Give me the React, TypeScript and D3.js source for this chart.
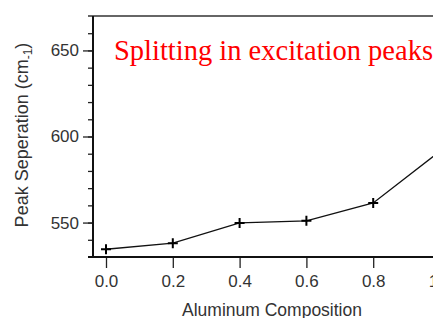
import * as d3 from "d3";
import { useEffect, useRef } from "react";

// values
const composition = [0.0, 0.2, 0.4, 0.6, 0.8, 1.0];
const peakSeparation = [534.5, 538, 549.8, 551, 561.4, 591.5];
const xTicks = [0.0, 0.2, 0.4, 0.6, 0.8, 1.0];
const yTicks = [550, 600, 650];

function App() {
  const ref = useRef<SVGSVGElement>(null);

  useEffect(() => {
    const width = 433;
    const svg = d3.select(ref.current);
    svg.selectAll("*").remove();

    const x = d3.scaleLinear().domain([0, 1]).range([106, 440]);
    const y = d3.scaleLinear().domain([530, 670]).range([257, 16]);
    const left = 93;
    const font = "Liberation Sans, Arial, sans-serif";

    // top frame line (gray)
    svg
      .append("line")
      .attr("x1", 88)
      .attr("x2", width)
      .attr("y1", y(670))
      .attr("y2", y(670))
      .attr("stroke", "#666")
      .attr("stroke-width", 2);

    // left axis with major + minor ticks
    const yAxis = svg.append("g").attr("transform", `translate(${left},0)`);
    yAxis
      .call(
        d3
          .axisLeft(y)
          .tickValues(d3.range(540, 670, 10))
          .tickSize(5)
          .tickFormat(() => "")
      )
      .select(".domain")
      .remove();
    yAxis
      .append("g")
      .call(
        d3
          .axisLeft(y)
          .tickValues(yTicks)
          .tickSize(10)
          .tickPadding(4)
          .tickFormat(d3.format("d"))
      )
      .select(".domain")
      .remove();
    yAxis.selectAll("line").attr("stroke", "#222").attr("stroke-width", 1.3);
    yAxis
      .selectAll("text")
      .style("font-family", font)
      .style("font-size", "17px")
      .attr("fill", "#333");
    svg
      .append("line")
      .attr("x1", left)
      .attr("x2", left)
      .attr("y1", y(670))
      .attr("y2", y(530))
      .attr("stroke", "#111")
      .attr("stroke-width", 2);

    // bottom axis
    const xAxis = svg.append("g").attr("transform", `translate(0,${y(530)})`);
    xAxis
      .call(
        d3
          .axisBottom(x)
          .tickValues(xTicks)
          .tickSize(11)
          .tickPadding(7)
          .tickFormat(d3.format(".1f"))
      )
      .select(".domain")
      .remove();
    xAxis.selectAll("line").attr("stroke", "#222").attr("stroke-width", 1.3);
    xAxis
      .selectAll("text")
      .style("font-family", font)
      .style("font-size", "17px")
      .attr("fill", "#333");
    svg
      .append("line")
      .attr("x1", 88)
      .attr("x2", width)
      .attr("y1", y(530))
      .attr("y2", y(530))
      .attr("stroke", "#111")
      .attr("stroke-width", 2);

    // data line
    const pts = composition.map((c, i) => [c, peakSeparation[i]] as [number, number]);
    const line = d3
      .line<[number, number]>()
      .x((d) => x(d[0]))
      .y((d) => y(d[1]));
    svg
      .append("path")
      .datum(pts)
      .attr("d", line)
      .attr("fill", "none")
      .attr("stroke", "#111")
      .attr("stroke-width", 1.3);

    // plus markers
    const s = 5;
    svg
      .selectAll("path.mark")
      .data(pts)
      .join("path")
      .attr("class", "mark")
      .attr(
        "d",
        (d) =>
          `M${x(d[0]) - s},${y(d[1])}H${x(d[0]) + s}M${x(d[0])},${y(d[1]) - s}V${y(d[1]) + s}`
      )
      .attr("stroke", "#000")
      .attr("stroke-width", 2);

    // axis titles
    const yl = svg
      .append("text")
      .attr("transform", `translate(28,135) rotate(-90)`)
      .attr("text-anchor", "middle")
      .style("font-family", font)
      .style("font-size", "18px")
      .attr("fill", "#333");
    yl.append("tspan").text("Peak Seperation (cm");
    yl.append("tspan").attr("dy", 4).style("font-size", "12px").text("-1");
    yl.append("tspan").attr("dy", -4).text(")");

    svg
      .append("text")
      .attr("x", 272)
      .attr("y", 316)
      .attr("text-anchor", "middle")
      .style("font-family", font)
      .style("font-size", "17.5px")
      .attr("fill", "#333")
      .text("Aluminum Composition");

    // annotation
    svg
      .append("text")
      .attr("x", 114)
      .attr("y", 60)
      .style("font-family", "Liberation Serif, Times New Roman, serif")
      .style("font-size", "28.5px")
      .attr("fill", "#ff0000")
      .text("Splitting in excitation peaks");
  }, []);

  return (
    <div style={{ position: "absolute", left: 0, top: 0 }}>
      <svg width={433} height={318} ref={ref} style={{ display: "block", background: "#fff" }} />
    </div>
  );
}

export default App;
